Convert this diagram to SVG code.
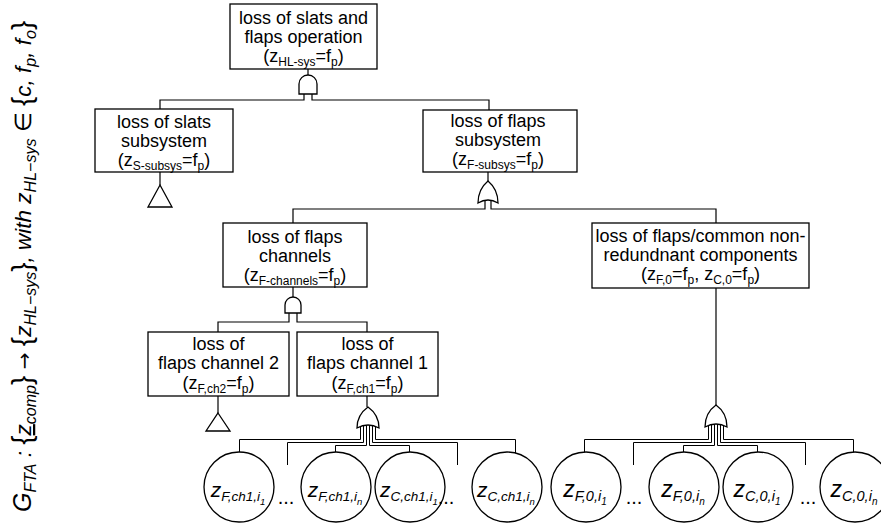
<svg xmlns="http://www.w3.org/2000/svg" width="881" height="527" viewBox="0 0 881 527">
<style>
.box{fill:#fff;stroke:#000;stroke-width:1.3}
.ln{fill:none;stroke:#000;stroke-width:1.2}
.fan{fill:none;stroke:#000;stroke-width:1}
.gate{fill:#fff;stroke:#000;stroke-width:1.3}
.lbl{font-family:"Liberation Sans",Arial,sans-serif;font-size:18px;text-anchor:middle;fill:#000}
.sub{font-size:12px}
.ev{font-family:"Liberation Sans",Arial,sans-serif;font-style:italic;text-anchor:middle;fill:#000}
.dots{font-family:"Liberation Sans",Arial,sans-serif;font-size:20px;text-anchor:middle;fill:#000}
.m{font-family:"Liberation Sans",Arial,sans-serif;font-style:italic;font-size:22.5px;fill:#000}
.ci{fill:#fff;stroke:#000;stroke-width:1.3}
</style>
<rect width="881" height="527" fill="#fff"/>

<g id="formula" transform="translate(31,512) rotate(-90)">
<text class="m" x="0" y="0"><tspan font-size="25">G</tspan><tspan font-size="16" dy="5">FTA</tspan><tspan dy="-5"> : </tspan><tspan font-style="normal" font-size="28">{</tspan><tspan text-decoration="underline">z</tspan><tspan font-size="16" dy="5">comp</tspan><tspan dy="-5" font-style="normal" font-size="28">}</tspan><tspan font-style="normal" font-family="'DejaVu Sans',sans-serif" font-size="20"> → </tspan><tspan font-style="normal" font-size="28">{</tspan><tspan>z</tspan><tspan font-size="16" dy="5">HL−sys</tspan><tspan dy="-5" font-style="normal" font-size="28">}</tspan><tspan>, with  z</tspan><tspan font-size="16" dy="5">HL−sys</tspan><tspan dy="-5" font-style="normal"> ∈ </tspan><tspan font-style="normal" font-size="28">{</tspan><tspan>c, f</tspan><tspan font-size="16" dy="5">p</tspan><tspan dy="-5">, f</tspan><tspan font-size="16" dy="5">o</tspan><tspan dy="-5" font-style="normal" font-size="28">}</tspan></text>
</g>

<g id="connectors">
<path class="ln" d="M308,69 V75"/>
<path class="ln" d="M304,93 V100 H160 V109"/>
<path class="ln" d="M312,93 V100 H489 V110"/>
<path class="ln" d="M160,172 V185"/>
<path class="ln" d="M488,172 V181"/>
<path class="ln" d="M485,200 V209 H293 V223"/>
<path class="ln" d="M491,200 V209 H716 V223"/>
<path class="ln" d="M293,287 V297"/>
<path class="ln" d="M289,312 V322 H218 V332"/>
<path class="ln" d="M297,312 V322 H367 V332"/>
<path class="ln" d="M218,396 V413"/>
<path class="ln" d="M367,396 V407"/>
<path class="ln" d="M716,288 V405"/>
<path class="fan" d="M360.5,423 V439.5 H239.5 V452"/>
<path class="fan" d="M363.5,423 V442.5 H287.5 V465"/>
<path class="fan" d="M366.5,423 V445.5 H335.5 V452"/>
<path class="fan" d="M369.5,423 V445.5 H409.5 V452"/>
<path class="fan" d="M372.5,423 V442.5 H457.5 V465"/>
<path class="fan" d="M375.5,423 V439.5 H515.5 V454"/>
<path class="fan" d="M708.5,422 V439.5 H584.5 V452"/>
<path class="fan" d="M711.5,422 V442.5 H633.5 V465"/>
<path class="fan" d="M714.5,422 V445.5 H683.5 V452"/>
<path class="fan" d="M717.5,422 V445.5 H757.5 V452"/>
<path class="fan" d="M720.5,422 V442.5 H805.5 V465"/>
<path class="fan" d="M723.5,422 V439.5 H853.5 V452"/>
</g>

<g id="n-top">
<rect class="box" x="230" y="4" width="147" height="65"/>
<text class="lbl" x="303.5" y="24">loss of slats and</text>
<text class="lbl" x="303.5" y="43">flaps operation</text>
<text class="lbl" x="303.5" y="62">(z<tspan class="sub" dy="4">HL-sys</tspan><tspan dy="-4">=f</tspan><tspan class="sub" dy="4">p</tspan><tspan dy="-4">)</tspan></text>
<path class="gate" d="M299,94 V84 A9,9 0 0 1 317,84 V94 Z"/>
</g>

<g id="n-slats">
<rect class="box" x="95" y="109" width="138" height="63"/>
<text class="lbl" x="164" y="128">loss of slats</text>
<text class="lbl" x="164" y="147">subsystem</text>
<text class="lbl" x="164" y="166">(z<tspan class="sub" dy="4">S-subsys</tspan><tspan dy="-4">=f</tspan><tspan class="sub" dy="4">p</tspan><tspan dy="-4">)</tspan></text>
<path class="gate" d="M160,185 L172,207 H148 Z"/>
</g>

<g id="n-flaps">
<rect class="box" x="423" y="110" width="154" height="62"/>
<text class="lbl" x="498" y="127">loss of flaps</text>
<text class="lbl" x="498" y="146">subsystem</text>
<text class="lbl" x="498" y="165">(z<tspan class="sub" dy="4">F-subsys</tspan><tspan dy="-4">=f</tspan><tspan class="sub" dy="4">p</tspan><tspan dy="-4">)</tspan></text>
<path class="gate" d="M478,203 C478,193 482,186 488,181 C494,186 498,193 498,203 Q488,197 478,203 Z"/>
</g>

<g id="n-channels">
<rect class="box" x="223" y="223" width="144" height="64"/>
<text class="lbl" x="295" y="243">loss of flaps</text>
<text class="lbl" x="295" y="262">channels</text>
<text class="lbl" x="295" y="281">(z<tspan class="sub" dy="4">F-channels</tspan><tspan dy="-4">=f</tspan><tspan class="sub" dy="4">p</tspan><tspan dy="-4">)</tspan></text>
<path class="gate" d="M285,313 V305 A8,8 0 0 1 301,305 V313 Z"/>
</g>

<g id="n-common">
<rect class="box" x="592" y="223" width="217" height="65"/>
<text class="lbl" x="700.5" y="242">loss of flaps/common non-</text>
<text class="lbl" x="700.5" y="261">redundnant components</text>
<text class="lbl" x="700.5" y="280">(z<tspan class="sub" dy="4">F,0</tspan><tspan dy="-4">=f</tspan><tspan class="sub" dy="4">p</tspan><tspan dy="-4">, z</tspan><tspan class="sub" dy="4">C,0</tspan><tspan dy="-4">=f</tspan><tspan class="sub" dy="4">p</tspan><tspan dy="-4">)</tspan></text>
<path class="gate" d="M705,427 C705,417 709,410 716,405 C723,410 727,417 727,427 Q716,421 705,427 Z"/>
</g>

<g id="n-ch2">
<rect class="box" x="148" y="332" width="141" height="64"/>
<text class="lbl" x="218.5" y="350">loss of</text>
<text class="lbl" x="218.5" y="369">flaps channel 2</text>
<text class="lbl" x="218.5" y="389">(z<tspan class="sub" dy="4">F,ch2</tspan><tspan dy="-4">=f</tspan><tspan class="sub" dy="4">p</tspan><tspan dy="-4">)</tspan></text>
<path class="gate" d="M218,413 L230,431 H206 Z"/>
</g>

<g id="n-ch1">
<rect class="box" x="297" y="332" width="141" height="64"/>
<text class="lbl" x="367.5" y="350">loss of</text>
<text class="lbl" x="367.5" y="369">flaps channel 1</text>
<text class="lbl" x="367.5" y="389">(z<tspan class="sub" dy="4">F,ch1</tspan><tspan dy="-4">=f</tspan><tspan class="sub" dy="4">p</tspan><tspan dy="-4">)</tspan></text>
<path class="gate" d="M357,428 C357,418 361,412 368,407 C375,412 379,418 379,428 Q368,422 357,428 Z"/>
</g>

<g id="e-F-ch1-1"><circle class="ci" cx="239" cy="487" r="35"/><text class="ev" x="238" y="497" font-size="21">z<tspan font-size="13.5" dy="4">F,ch1,i</tspan><tspan font-size="9.5" dy="4">1</tspan></text></g>
<g id="e-F-ch1-n"><circle class="ci" cx="336" cy="487" r="35"/><text class="ev" x="335" y="497" font-size="21">z<tspan font-size="13.5" dy="4">F,ch1,i</tspan><tspan font-size="9.5" dy="4">n</tspan></text></g>
<g id="e-C-ch1-1"><circle class="ci" cx="410" cy="487" r="35"/><text class="ev" x="409" y="497" font-size="21">z<tspan font-size="13.5" dy="4">C,ch1,i</tspan><tspan font-size="9.5" dy="4">1</tspan></text></g>
<g id="e-C-ch1-n"><circle class="ci" cx="507" cy="487" r="35"/><text class="ev" x="506" y="497" font-size="21">z<tspan font-size="13.5" dy="4">C,ch1,i</tspan><tspan font-size="9.5" dy="4">n</tspan></text></g>
<g id="e-F-0-1"><circle class="ci" cx="586" cy="487" r="35"/><text class="ev" x="585" y="497" font-size="23">z<tspan font-size="14.5" dy="4">F,0,i</tspan><tspan font-size="10" dy="4">1</tspan></text></g>
<g id="e-F-0-n"><circle class="ci" cx="684" cy="487" r="35"/><text class="ev" x="683" y="497" font-size="23">z<tspan font-size="14.5" dy="4">F,0,i</tspan><tspan font-size="10" dy="4">n</tspan></text></g>
<g id="e-C-0-1"><circle class="ci" cx="758" cy="487" r="35"/><text class="ev" x="757" y="497" font-size="23">z<tspan font-size="14.5" dy="4">C,0,i</tspan><tspan font-size="10" dy="4">1</tspan></text></g>
<g id="e-C-0-n"><circle class="ci" cx="855" cy="487" r="35"/><text class="ev" x="854" y="497" font-size="23">z<tspan font-size="14.5" dy="4">C,0,i</tspan><tspan font-size="10" dy="4">n</tspan></text></g>

<g id="dots">
<text class="dots" x="286" y="504">...</text>
<text class="dots" x="446" y="504">...</text>
<text class="dots" x="634" y="504">...</text>
<text class="dots" x="808" y="504">...</text>
</g>
</svg>
